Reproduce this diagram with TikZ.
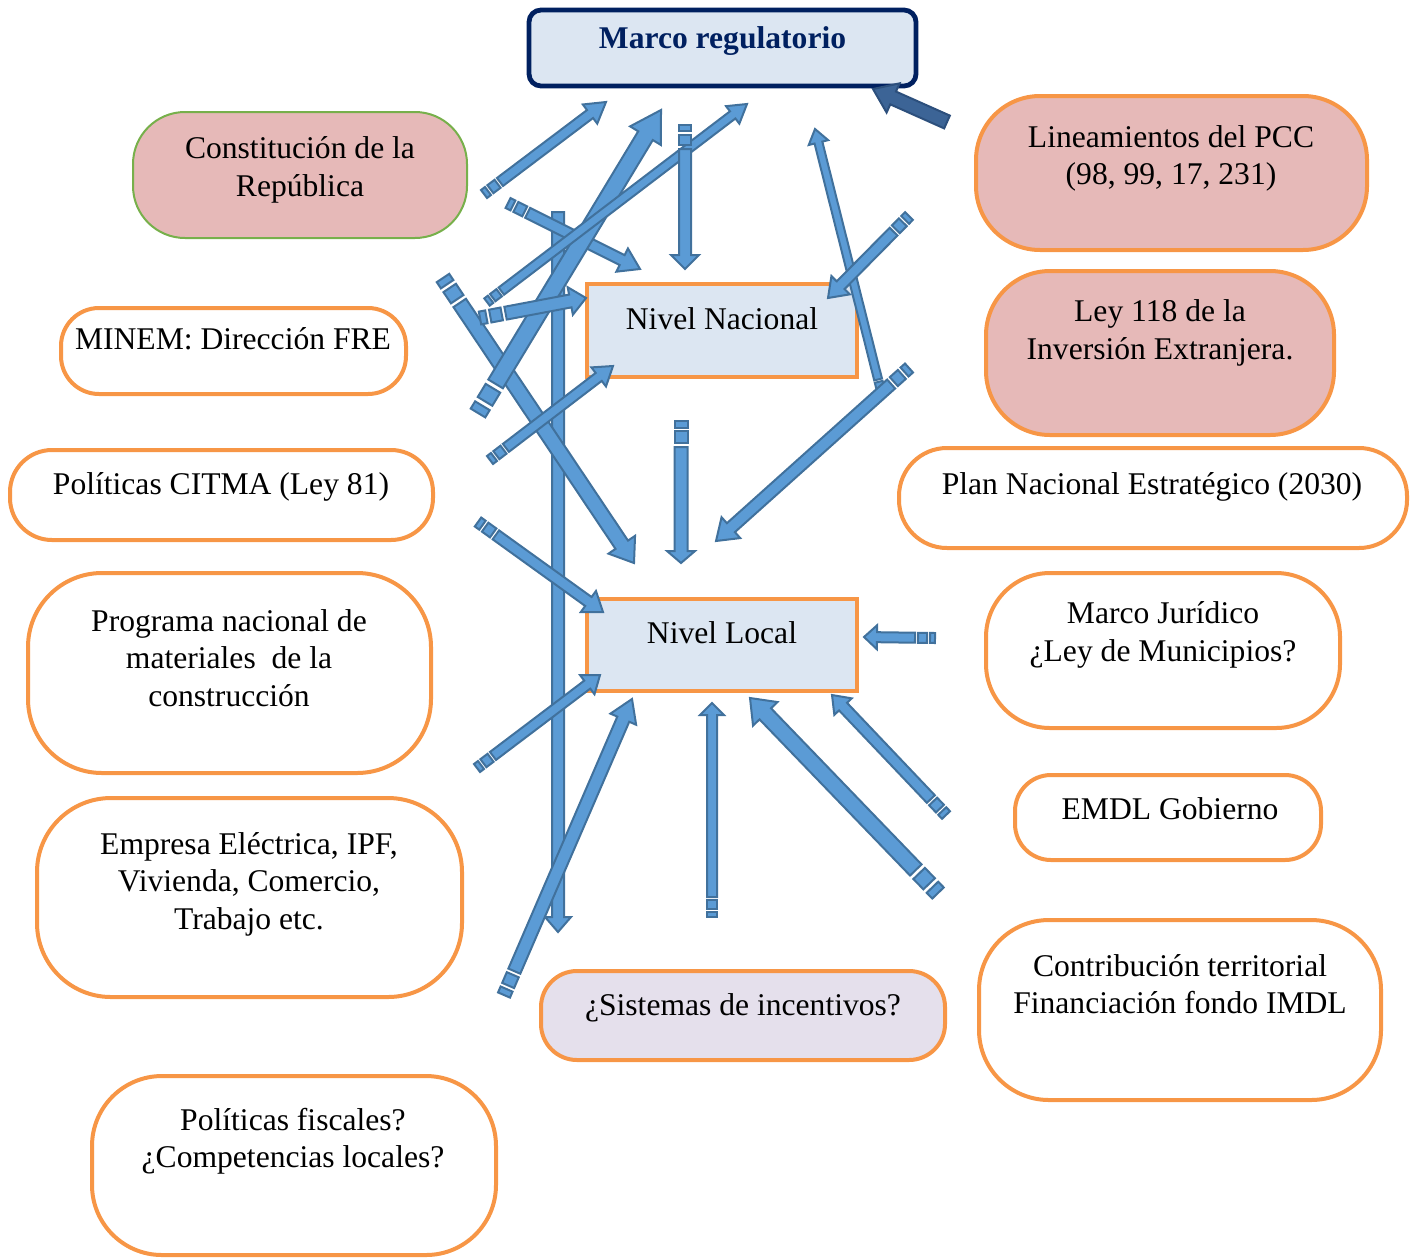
\documentclass[tikz,border=0pt]{standalone}
\usepackage{fontspec}
\setmainfont{Liberation Serif}
\usetikzlibrary{calc}

\definecolor{navy}{HTML}{002060}
\definecolor{paleblue}{HTML}{DCE6F2}
\definecolor{rosefill}{HTML}{E6B9B8}
\definecolor{orangeline}{HTML}{F79646}
\definecolor{greenline}{HTML}{77B04B}
\definecolor{lavender}{HTML}{E5E0EC}
\definecolor{arrfill}{HTML}{5B9BD5}
\definecolor{arrline}{HTML}{41719C}
\definecolor{darkfill}{HTML}{3C6496}
\definecolor{darkline}{HTML}{2C4F7C}

% block arrow: tail, tip, shaft width, head width, head length (px), striped tail 1/0
\newcommand{\blockarrow}[7][]{%
  \pgfmathsetmacro\baW{#4*0.25}%
  \pgfmathsetmacro\baH{#5*0.25}%
  \pgfmathsetmacro\baL{#6*0.5}%
  \pgfmathsetmacro\baS{#7*1.0*#4}%
  \coordinate (ba0) at ($(#2)!\baS pt!(#3)$);
  \coordinate (ba1) at ($(#3)!\baL pt!(#2)$);
  \filldraw[blockarr,#1] ($(ba0)!\baW pt!90:(#3)$) -- ($(ba1)!\baW pt!90:(#3)$)
    -- ($(ba1)!\baH pt!90:(#3)$) -- (#3) -- ($(ba1)!\baH pt!-90:(#3)$)
    -- ($(ba1)!\baW pt!-90:(#3)$) -- ($(ba0)!\baW pt!-90:(#3)$) -- cycle;
  \ifnum#7=1\relax
    \pgfmathsetmacro\baA{#4*0.25}\pgfmathsetmacro\baB{#4*0.4}\pgfmathsetmacro\baC{#4*0.85}%
    \coordinate (ba2) at ($(#2)!\baA pt!(#3)$);
    \coordinate (ba3) at ($(#2)!\baB pt!(#3)$);
    \coordinate (ba4) at ($(#2)!\baC pt!(#3)$);
    \filldraw[blockarr,#1] ($(#2)!\baW pt!90:(#3)$) -- ($(ba2)!\baW pt!90:(#3)$)
      -- ($(ba2)!\baW pt!-90:(#3)$) -- ($(#2)!\baW pt!-90:(#3)$) -- cycle;
    \filldraw[blockarr,#1] ($(ba3)!\baW pt!90:(#3)$) -- ($(ba4)!\baW pt!90:(#3)$)
      -- ($(ba4)!\baW pt!-90:(#3)$) -- ($(ba3)!\baW pt!-90:(#3)$) -- cycle;
  \fi
}

\begin{document}
\begin{tikzpicture}[x=0.5pt, y=-0.5pt,
    panel/.style={draw, inner sep=0pt, line width=2pt},
    txt/.style={align=center, inner sep=0pt, font=\fontsize{15.8}{18.75}\selectfont},
    blockarr/.style={fill=arrfill, draw=arrline, line width=1pt, line join=miter},
    darkarr/.style={fill=darkfill, draw=darkline}]
	\useasboundingbox (0,0) rectangle (1416,1258);

	\node[panel, draw=navy, line width=2.4pt, fill=paleblue, rounded corners=6pt, minimum width=193.5pt, minimum height=38pt] (marco) at (722.5,48) {};
	\node[panel, draw=greenline, line width=1pt, fill=rosefill, rounded corners=26pt, minimum width=167pt, minimum height=63pt] (constitucion) at (300,175) {};
	\node[panel, draw=orangeline, fill=rosefill, rounded corners=32pt, minimum width=195.5pt, minimum height=77pt] (lineamientos) at (1171.5,173) {};
	\node[panel, draw=orangeline, fill=rosefill, rounded corners=32pt, minimum width=174pt, minimum height=82pt] (ley) at (1160,353) {};
	\node[panel, draw=orangeline, fill=white, rounded corners=19pt, minimum width=172.5pt, minimum height=43pt] (minem) at (233.5,351) {};
	\node[panel, draw=orangeline, fill=white, rounded corners=21pt, minimum width=211.5pt, minimum height=45pt] (citma) at (221.5,495) {};
	\node[panel, draw=orangeline, fill=white, rounded corners=37pt, minimum width=201.5pt, minimum height=100pt] (programa) at (229.5,673) {};
	\node[panel, draw=orangeline, fill=white, rounded corners=37pt, minimum width=212.5pt, minimum height=99.5pt] (empresa) at (249.5,897.5) {};
	\node[panel, draw=orangeline, fill=white, rounded corners=35pt, minimum width=202pt, minimum height=89.5pt] (fiscales) at (294,1165.5) {};
	\node[panel, draw=orangeline, fill=white, rounded corners=24pt, minimum width=254pt, minimum height=50pt] (plan) at (1153,498) {};
	\node[panel, draw=orangeline, fill=white, rounded corners=32pt, minimum width=177pt, minimum height=77.5pt] (juridico) at (1163,650.5) {};
	\node[panel, draw=orangeline, fill=white, rounded corners=18pt, minimum width=153pt, minimum height=42.5pt] (emdl) at (1168,817.5) {};
	\node[panel, draw=orangeline, fill=white, rounded corners=35pt, minimum width=201pt, minimum height=90pt] (contribucion) at (1180,1010) {};
	\node[panel, draw=orangeline, fill=lavender, rounded corners=18pt, minimum width=202pt, minimum height=44.5pt] (incentivos) at (743,1015.5) {};
	\node[panel, draw=orangeline, fill=paleblue, minimum width=135pt, minimum height=46.5pt] (nacional) at (722,330.5) {};
	\node[panel, draw=orangeline, fill=paleblue, minimum width=135pt, minimum height=46pt] (local) at (722,645) {};

	\node[txt, text=navy, font=\fontsize{15.8}{18.75}\selectfont\bfseries] (marco-t) at (722.5,41) {Marco regulatorio};
	\node[txt] (constitucion-t) at (300,170) {Constitución de la\\República};
	\node[txt] (lineamientos-t) at (1171,158.5) {Lineamientos del PCC\\(98, 99, 17, 231)};
	\node[txt] (ley-t) at (1160,333) {Ley 118 de la\\Inversión Extranjera.};
	\node[txt] (minem-t) at (233,339) {MINEM: Dirección FRE};
	\node[txt] (citma-t) at (221,487) {Políticas CITMA (Ley 81)};
	\node[txt] (programa-t) at (229,658) {Programa nacional de\\materiales\ \ de la\\construcción};
	\node[txt] (empresa-t) at (249,884) {Empresa Eléctrica, IPF,\\Vivienda, Comercio,\\Trabajo etc.};
	\node[txt] (fiscales-t) at (293,1141) {Políticas fiscales?\\¿Competencias locales?};
	\node[txt] (plan-t) at (1152,487) {Plan Nacional Estratégico (2030)};
	\node[txt] (juridico-t) at (1163,635) {Marco Jurídico\\¿Ley de Municipios?};
	\node[txt] (emdl-t) at (1170,809) {EMDL Gobierno};
	\node[txt] (contribucion-t) at (1180,984) {Contribución territorial\\Financiación fondo IMDL};
	\node[txt] (incentivos-t) at (743,1008) {¿Sistemas de incentivos?};
	\node[txt] (nacional-t) at (722,319) {Nivel Nacional};
	\node[txt] (local-t) at (722,633) {Nivel Local};

	\coordinate (a1s) at (484,194);  \coordinate (a1e) at (606,102);
	\coordinate (a2s) at (478,413);  \coordinate (a2e) at (661,110);
	\coordinate (a3s) at (487,302);  \coordinate (a3e) at (747,104);
	\coordinate (a4s) at (508,203);  \coordinate (a4e) at (640,269);
	\coordinate (a5s) at (685,125);  \coordinate (a5e) at (685,269);
	\coordinate (a6s) at (480,318);  \coordinate (a6e) at (586,298);
	\coordinate (a7s) at (443,278);  \coordinate (a7e) at (634,563);
	\coordinate (a8s) at (558,212);  \coordinate (a8e) at (558,932);
	\coordinate (a9s) at (490,460);  \coordinate (a9e) at (613,366);
	\coordinate (a10s) at (478,522); \coordinate (a10e) at (603,612);
	\coordinate (a11s) at (935,638); \coordinate (a11e) at (864,637);
	\coordinate (a12s) at (477,768); \coordinate (a12e) at (600,675);
	\coordinate (a13s) at (504,995); \coordinate (a13e) at (632,699);
	\coordinate (a14s) at (712,917); \coordinate (a14e) at (712,703);
	\coordinate (a15s) at (938,893); \coordinate (a15e) at (750,698);
	\coordinate (a16s) at (946,815); \coordinate (a16e) at (832,695);
	\coordinate (a17s) at (947,122); \coordinate (a17e) at (873,89);
	\coordinate (a18s) at (882,395); \coordinate (a18e) at (815,129);
	\coordinate (a19s) at (909,216); \coordinate (a19e) at (828,298);
	\coordinate (a20s) at (909,368); \coordinate (a20e) at (716,541);
	\coordinate (a21s) at (681,421); \coordinate (a21e) at (681,563);

	\blockarrow{a8s}{a8e}{12}{26}{15}{0}
	\blockarrow{a1s}{a1e}{10}{24}{20}{1}
	\blockarrow{a4s}{a4e}{11}{26}{20}{1}
	\blockarrow{a7s}{a7e}{15}{32}{22}{1}
	\blockarrow{a2s}{a2e}{17}{36}{30}{1}
	\blockarrow{a3s}{a3e}{9}{22}{18}{1}
	\blockarrow{a5s}{a5e}{12}{28}{14}{1}
	\blockarrow{a6s}{a6e}{13}{28}{16}{1}
	\blockarrow{a9s}{a9e}{10}{24}{18}{1}
	\blockarrow{a10s}{a10e}{11}{26}{18}{1}
	\blockarrow{a11s}{a11e}{10}{24}{13}{1}
	\blockarrow{a12s}{a12e}{10}{24}{16}{1}
	\blockarrow{a13s}{a13e}{13}{28}{22}{1}
	\blockarrow{a14s}{a14e}{10}{24}{12}{1}
	\blockarrow{a15s}{a15e}{16}{34}{22}{1}
	\blockarrow{a16s}{a16e}{11}{24}{16}{1}
	\blockarrow[darkarr]{a17s}{a17e}{14}{32}{22}{0}
	\blockarrow{a18s}{a18e}{8}{20}{14}{1}
	\blockarrow{a19s}{a19e}{11}{26}{18}{1}
	\blockarrow{a20s}{a20e}{12}{28}{20}{1}
	\blockarrow{a21s}{a21e}{13}{28}{12}{1}
\end{tikzpicture}
\end{document}
